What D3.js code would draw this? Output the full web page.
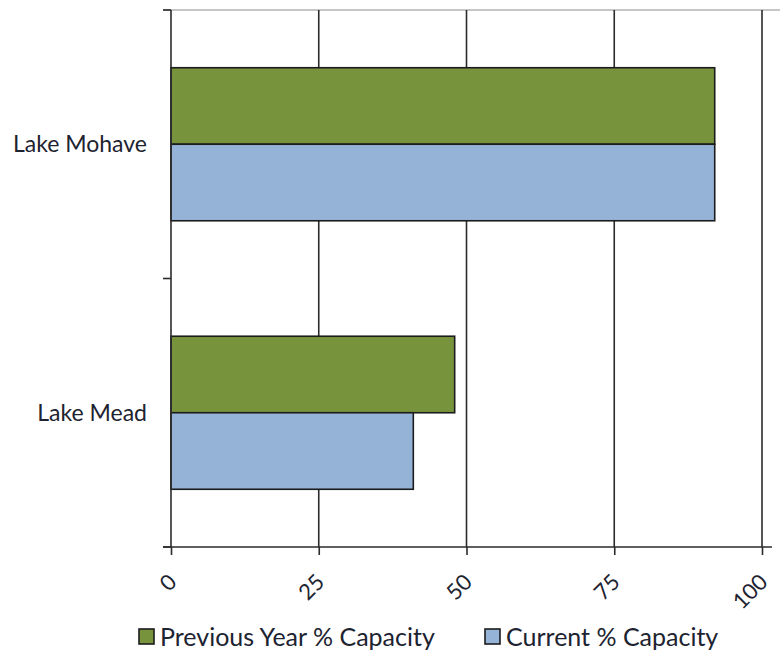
<!DOCTYPE html>
<html>
<head>
<meta charset="utf-8">
<script src="https://cdn.jsdelivr.net/npm/d3@7"></script>
<style>
  html, body { margin: 0; padding: 0; background: #fff; }
  svg { display: block; }
  text { font-family: Lato, "Open Sans", sans-serif; fill: #1d2330; }
</style>
</head>
<body>
<svg id="chart" width="780" height="656"></svg>
<script>
// Reservoir storage, percent of capacity
const lakes = ["Lake Mohave", "Lake Mead"];
const seriesNames = ["Previous Year % Capacity", "Current % Capacity"];
const previousYear = [92, 48];
const current = [92, 41];
const xTicks = [0, 25, 50, 75, 100];
const seriesColors = ["#77933c", "#95b3d7"];

const svg = d3.select("#chart");
const W = 780, H = 656;
const plot = { left: 171, right: 762, top: 10, bottom: 547 };

const x = d3.scaleLinear().domain([0, 100]).range([plot.left, plot.right]);
const y = d3.scaleBand().domain(lakes).range([plot.top, plot.bottom])
  .paddingInner(0.43).paddingOuter(0.215);
const ySub = d3.scaleBand().domain(seriesNames).range([0, y.bandwidth()]);

const rows = lakes.map((lake, i) => ({
  lake,
  values: [
    { series: seriesNames[0], value: previousYear[i] },
    { series: seriesNames[1], value: current[i] }
  ]
}));
const color = d3.scaleOrdinal().domain(seriesNames).range(seriesColors);

// light frame line along the top of the plot area
svg.append("line")
  .attr("x1", plot.left - 8).attr("x2", W)
  .attr("y1", plot.top).attr("y2", plot.top)
  .attr("stroke", "#c6c6c6").attr("stroke-width", 2);

// vertical gridlines
svg.append("g").selectAll("line")
  .data(xTicks.filter(t => t > 0))
  .join("line")
  .attr("x1", d => x(d)).attr("x2", d => x(d))
  .attr("y1", plot.top).attr("y2", plot.bottom)
  .attr("stroke", "#2b2b2b").attr("stroke-width", 1.6);

// bars
const groups = svg.append("g").selectAll("g")
  .data(rows)
  .join("g")
  .attr("transform", d => `translate(0,${y(d.lake)})`);

groups.selectAll("rect")
  .data(d => d.values)
  .join("rect")
  .attr("x", x(0))
  .attr("y", d => ySub(d.series))
  .attr("width", d => x(d.value) - x(0))
  .attr("height", ySub.bandwidth())
  .attr("fill", d => color(d.series))
  .attr("stroke", "#1c1c1c")
  .attr("stroke-width", 1.6);

// x axis
const xAxis = svg.append("g")
  .attr("transform", `translate(0,${plot.bottom})`)
  .call(d3.axisBottom(x).tickValues(xTicks).tickSize(8).tickSizeOuter(0));
xAxis.select(".domain").attr("d", `M${plot.left - 8},0H${W - 8}`)
  .attr("stroke", "#2b2b2b").attr("stroke-width", 1.6);
xAxis.selectAll(".tick line").attr("stroke", "#2b2b2b").attr("stroke-width", 1.6);
xAxis.selectAll(".tick text")
  .attr("font-size", 22)
  .attr("font-family", "Lato, sans-serif")
  .attr("fill", "#1d2330")
  .attr("text-anchor", "end")
  .attr("y", 0).attr("dy", "0.35em")
  .attr("transform", "translate(1,31) rotate(-45)");

// y axis: a line with ticks at the category boundaries
const yAxis = svg.append("g").attr("transform", `translate(${plot.left},0)`);
yAxis.append("line")
  .attr("x1", 0).attr("x2", 0)
  .attr("y1", plot.top).attr("y2", plot.bottom)
  .attr("stroke", "#2b2b2b").attr("stroke-width", 1.6);
const boundaries = [plot.top, (y(lakes[0]) + y.bandwidth() + y(lakes[1])) / 2, plot.bottom];
yAxis.selectAll("line.tk")
  .data(boundaries)
  .join("line").attr("class", "tk")
  .attr("x1", -8).attr("x2", 0)
  .attr("y1", d => d).attr("y2", d => d)
  .attr("stroke", "#2b2b2b").attr("stroke-width", 1.6);

svg.append("g").selectAll("text")
  .data(lakes)
  .join("text")
  .attr("x", plot.left - 24)
  .attr("y", d => y(d) + y.bandwidth() / 2)
  .attr("dy", "0.35em")
  .attr("text-anchor", "end")
  .attr("font-size", 23)
  .text(d => d);

// legend
const legend = svg.append("g").attr("transform", "translate(0,637)");
const legendX = [139, 485];
const items = legend.selectAll("g")
  .data(seriesNames)
  .join("g")
  .attr("transform", (d, i) => `translate(${legendX[i]},0)`);
items.append("rect")
  .attr("x", 0).attr("y", -8).attr("width", 15).attr("height", 15)
  .attr("fill", d => color(d))
  .attr("stroke", "#1c1c1c").attr("stroke-width", 1.6);
items.append("text")
  .attr("x", 21).attr("y", 0).attr("dy", "0.35em")
  .attr("font-size", 25)
  .text(d => d);
</script>
</body>
</html>
